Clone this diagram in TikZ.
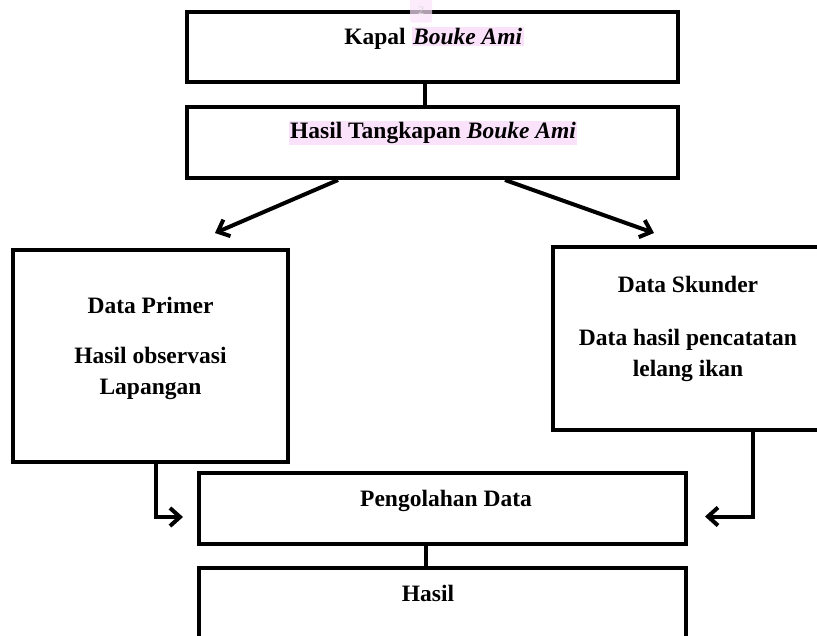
\documentclass[tikz,border=0pt]{standalone}
\usepackage{fontspec}
\setmainfont{Liberation Serif}
\usetikzlibrary{arrows.meta}
\definecolor{hilite}{RGB}{250,226,250}
\tikzstyle{flow box}   = [draw, line width=4pt, inner sep=0pt]
\tikzstyle{flow text}  = [align=center, inner sep=0pt]
\tikzstyle{flow line}  = [line width=3.5pt]
\tikzstyle{flow arrow} = [line width=4pt, -{Straight Barb[length=10pt,width=18pt]}]
\setlength{\fboxsep}{1.5pt}

\begin{document}
\begin{tikzpicture}[x=1pt, y=-1pt, font=\fontsize{23.5}{31}\selectfont\bfseries]

    \useasboundingbox (0,0) rectangle (817,635);
    \clip (0,0) rectangle (817,635);

    % Boxes
    \node(kapal)[flow box, minimum width=491pt, minimum height=70pt] at (432.5,47) {};
    \node(tangkap)[flow box, minimum width=491pt, minimum height=71pt] at (432.5,142.5) {};
    \node(primer)[flow box, minimum width=275pt, minimum height=212pt] at (150.5,356) {};
    \node(skunder)[flow box, minimum width=270pt, minimum height=183pt] at (688,338.5) {};
    \node(olah)[flow box, minimum width=487pt, minimum height=71pt] at (442.5,508.5) {};
    \node(hasil)[flow box, minimum width=487pt, minimum height=82pt] at (442.5,609) {};

    % Box texts
    \node(kapal txt)[flow text] at ([xshift=1.5pt,yshift=-28pt]kapal.north)
        {Kapal \colorbox{hilite}{\itshape Bouke Ami}};
    \node(tangkap txt)[flow text] at ([xshift=0.5pt,yshift=-28pt]tangkap.north)
        {\colorbox{hilite}{Hasil Tangkapan \itshape Bouke Ami}};
    \node(primer txt)[flow text] at ([yshift=8pt]primer.center)
        {Data Primer\\[19pt]Hasil observasi\\Lapangan};
    \node(skunder txt)[flow text] at ([yshift=10pt]skunder.center)
        {Data Skunder\\[22pt]Data hasil pencatatan\\lelang ikan};
    \node(olah txt)[flow text] at ([xshift=3.5pt,yshift=-30pt]olah.north) {Pengolahan Data};
    \node(hasil txt)[flow text] at ([xshift=-14.5pt,yshift=-27pt]hasil.north) {Hasil};

    % Page mark over the top edge
    \node(mark)[fill=hilite, fill opacity=0.7, text opacity=1, text=white!85!black, rounded corners=2pt,
        minimum width=22pt, minimum height=23pt, inner sep=0pt, font=\fontsize{12}{13}\selectfont]
        at (421,11) {2};

    % Straight connectors
    \draw[flow line] ([xshift=-7.5pt]kapal.south) -- ([xshift=-7.5pt]tangkap.north);
    \draw[flow line] ([xshift=-16.5pt]olah.south) -- ([xshift=-16.5pt]hasil.north);

    % Split into the two data sources
    \coordinate(primer tip) at (215,233);
    \coordinate(skunder tip) at (654,233);
    \draw[flow arrow] ([xshift=-94.5pt]tangkap.south) -- (primer tip);
    \draw[flow arrow] ([xshift=72.5pt]tangkap.south) -- (skunder tip);

    % Both sources into processing
    \draw[flow arrow] ([xshift=5.5pt]primer.south) |- ([xshift=-14pt,yshift=-8.5pt]olah.west);
    \draw[flow arrow] ([xshift=65pt]skunder.south) |- ([xshift=17pt,yshift=-8pt]olah.east);

\end{tikzpicture}
\end{document}
